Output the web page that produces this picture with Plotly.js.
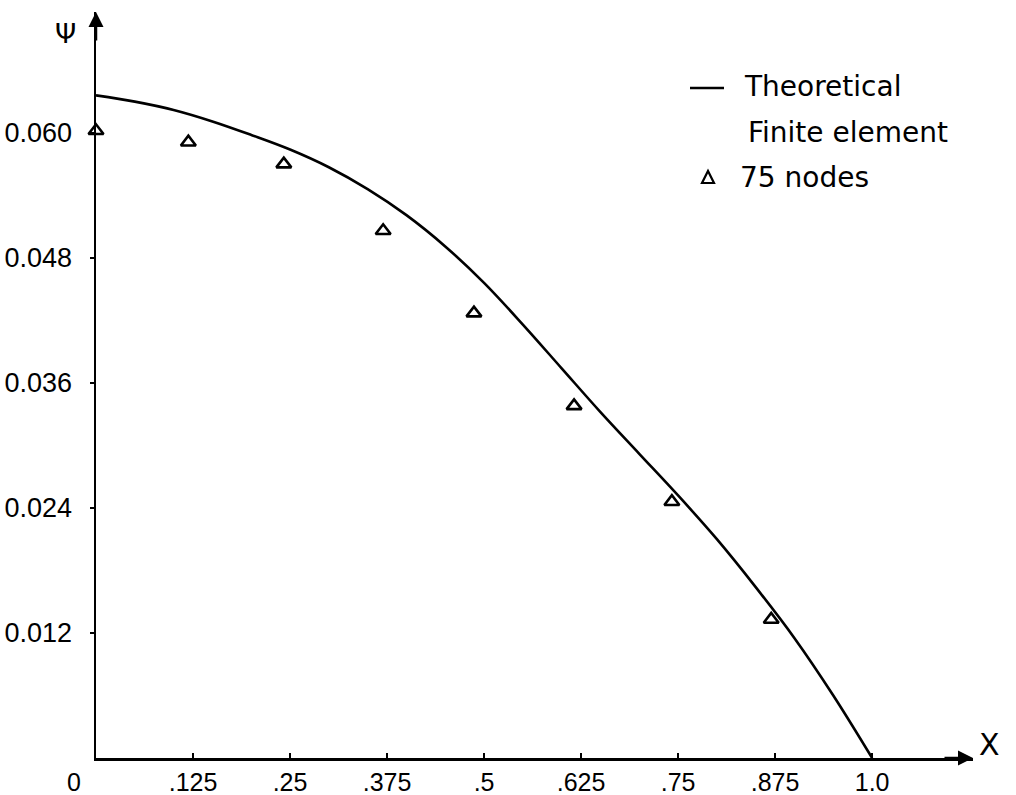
<!DOCTYPE html>
<html>
<head>
<meta charset="utf-8">
<script src="https://cdn.plot.ly/plotly-3.0.1.min.js"></script>
<style>html,body{margin:0;padding:0;background:#fff;}#chart{width:1016px;height:795px;}</style>
</head>
<body>
<div id="chart"></div>
<script>
// Theoretical curve
const xTheory = [0, 0.05, 0.1, 0.15, 0.2, 0.25, 0.3, 0.35, 0.4, 0.45, 0.5, 0.55, 0.6, 0.65, 0.7, 0.75, 0.8, 0.85, 0.9, 0.95, 1.0];
const yTheory = [0.0636, 0.0630, 0.0622, 0.0611, 0.0598, 0.0584, 0.0567, 0.0546, 0.0521, 0.0491, 0.0456, 0.0416, 0.0374, 0.0332, 0.0292, 0.0252, 0.0210, 0.0164, 0.0115, 0.0060, 0.0];
// Finite element, 75 nodes
const xNodes = [0, 0.119, 0.242, 0.37, 0.487, 0.616, 0.742, 0.870];
const yNodes = [0.0602, 0.0591, 0.0570, 0.0506, 0.0427, 0.0338, 0.0246, 0.0133];
// Tick labels
const xTickVals = [0.125, 0.25, 0.375, 0.5, 0.625, 0.75, 0.875, 1.0];
const xTickText = ['.125', '.25', '.375', '.5', '.625', '.75', '.875', '1.0'];
const yTickVals = [0.012, 0.024, 0.036, 0.048, 0.060];
const yTickText = ['0.012', '0.024', '0.036', '0.048', '0.060'];
const legendLabels = ['Theoretical', 'Finite element', '75 nodes'];

const W = 1016, H = 795;
const L = 96, R = 43, T = 12, B = 37;
const pw = W - L - R, ph = H - T - B;
const px = v => (v - L) / pw;
const py = v => (H - B - v) / ph;

const tickFont = {family: 'Liberation Sans, Arial, sans-serif', size: 27, color: '#000'};
const xTickFont = {family: 'Liberation Sans, Arial, sans-serif', size: 25, color: '#000'};
const legFont = {family: 'DejaVu Sans, sans-serif', size: 28, color: '#000'};

const traces = [
  {x: xTheory, y: yTheory, mode: 'lines', type: 'scatter', name: legendLabels[0],
   line: {color: '#000', width: 2.6, shape: 'spline', smoothing: 1}, showlegend: false, cliponaxis: false},
  {x: xNodes, y: yNodes, mode: 'markers', type: 'scatter', name: legendLabels[2],
   marker: {symbol: 'triangle-up-open', size: 13, color: '#000', line: {color: '#000', width: 2.6}},
   showlegend: false, cliponaxis: false}
];

const layout = {
  width: W, height: H,
  margin: {l: L, r: R, t: T, b: B, pad: 0},
  paper_bgcolor: '#fff', plot_bgcolor: '#fff',
  showlegend: false,
  xaxis: {range: [0, 1.13], showgrid: false, zeroline: false, showline: true, linecolor: '#000', linewidth: 2.5,
          tickvals: xTickVals, ticktext: xTickText, ticks: 'inside', ticklen: 5, tickwidth: 2, tickcolor: '#000',
          tickfont: xTickFont, ticklabelstandoff: 0},
  yaxis: {range: [0, 0.0716], showgrid: false, zeroline: false, showline: true, linecolor: '#000', linewidth: 2.5,
          tickvals: yTickVals, ticktext: yTickText, ticks: 'outside', ticklen: 4, tickwidth: 2, tickcolor: '#000',
          tickfont: tickFont, ticklabelstandoff: 12},
  shapes: [
    {type: 'line', xref: 'paper', yref: 'paper', x0: px(690), x1: px(724), y0: py(88), y1: py(88),
     line: {color: '#000', width: 2.5}},
    {type: 'path', xref: 'paper', yref: 'paper', xsizemode: 'pixel', ysizemode: 'pixel',
     xanchor: px(708), yanchor: py(178), path: 'M -6,-5 L 6,-5 L 0,7 Z',
     line: {color: '#000', width: 2.2}, fillcolor: 'rgba(0,0,0,0)'}
  ],
  annotations: [
    {xref: 'x', yref: 'y', x: 1.13, y: 0, ax: -30, ay: 0, text: '', showarrow: true,
     arrowhead: 2, arrowsize: 1.2, arrowwidth: 2.5, arrowcolor: '#000'},
    {xref: 'x', yref: 'y', x: 0, y: 0.0716, ax: 0, ay: 30, text: '', showarrow: true,
     arrowhead: 2, arrowsize: 1.2, arrowwidth: 2.5, arrowcolor: '#000'},
    {xref: 'paper', yref: 'paper', x: px(990), y: py(744), text: 'X', showarrow: false,
     font: {family: 'DejaVu Sans, sans-serif', size: 30, color: '#000'}, xanchor: 'center', yanchor: 'middle'},
    {xref: 'paper', yref: 'paper', x: px(65), y: py(33), text: 'Ψ', showarrow: false,
     font: {family: 'DejaVu Sans, sans-serif', size: 27, color: '#000'}, xanchor: 'center', yanchor: 'middle'},
    {xref: 'paper', yref: 'paper', x: px(74), y: py(782), text: '0', showarrow: false,
     font: xTickFont, xanchor: 'center', yanchor: 'middle'},
    {xref: 'paper', yref: 'paper', x: px(742), y: py(87), text: legendLabels[0], showarrow: false,
     font: legFont, xanchor: 'left', yanchor: 'middle'},
    {xref: 'paper', yref: 'paper', x: px(746), y: py(132), text: legendLabels[1], showarrow: false,
     font: legFont, xanchor: 'left', yanchor: 'middle'},
    {xref: 'paper', yref: 'paper', x: px(738), y: py(177), text: legendLabels[2], showarrow: false,
     font: legFont, xanchor: 'left', yanchor: 'middle'}
  ]
};

Plotly.newPlot('chart', traces, layout, {displayModeBar: false, staticPlot: true});
</script>
</body>
</html>
